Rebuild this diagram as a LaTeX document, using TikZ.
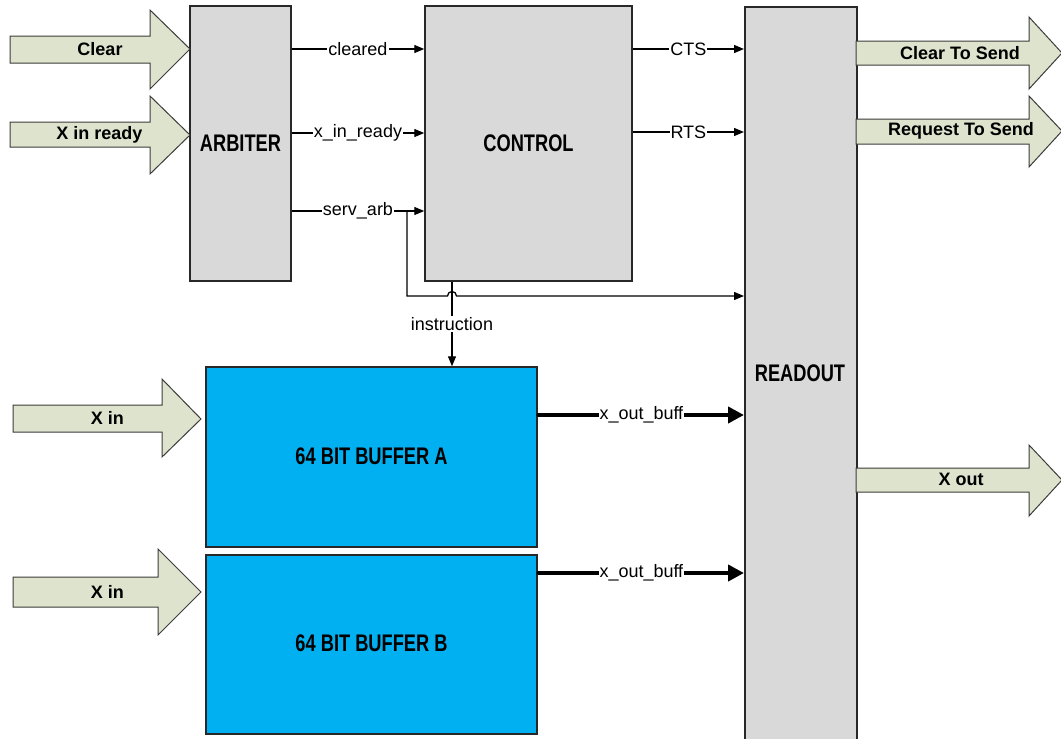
\documentclass[tikz,border=0pt]{standalone}
\usepackage{fontspec}
\setmainfont{Liberation Sans}
\newfontfamily\condfont[FakeStretch=0.76]{Liberation Sans}
\usetikzlibrary{arrows.meta}
\definecolor{boxgray}{RGB}{217,217,217}
\definecolor{bufblue}{RGB}{0,176,240}
\definecolor{arrfill}{RGB}{221,227,205}
\definecolor{edgedark}{RGB}{40,40,40}
\definecolor{arredge}{RGB}{60,60,60}
\tikzset{
  gbox/.style={draw=edgedark, line width=1.5pt, fill=boxgray, inner sep=0pt},
  bbox/.style={draw=edgedark, line width=1.5pt, fill=bufblue, inner sep=0pt},
  ttl/.style={font=\condfont\bfseries\fontsize{24}{26}\selectfont, inner sep=0pt},
  blk/.style={draw=arredge, line width=1pt, fill=arrfill, line join=miter},
  blklbl/.style={font=\bfseries\fontsize{18}{20}\selectfont, inner sep=0pt},
  lbl/.style={font=\fontsize{18}{20}\selectfont, fill=white, inner sep=1pt},
  sig/.style={draw=black, line width=1.3pt, -{Triangle[length=10pt,width=8pt]}},
  wire/.style={draw=black, line width=1.3pt},
  bus/.style={draw=black, line width=4.5pt, line cap=round, -{Triangle[length=16pt,width=16pt]}}
}
\begin{document}
\begin{tikzpicture}[x=1pt,y=-1pt]
\useasboundingbox (0,0) rectangle (1061,739);
\clip (0,0) rectangle (1061,739);
\fill[white] (0,0) rectangle (1061,739);

% blocks
\node[gbox, minimum width=101, minimum height=275] (arb) at (240.5,143.5) {};
\node[ttl] (arbt) at (240.5,143) {ARBITER};
\node[gbox, minimum width=207, minimum height=275] (ctrl) at (528.5,143.5) {};
\node[ttl] (ctrlt) at (528.5,143) {CONTROL};
\node[gbox, minimum width=112, minimum height=744, anchor=north west] (ro) at (744,6) {};
\node[ttl] (rot) at (800,373) {READOUT};
\node[bbox, minimum width=331, minimum height=180] (bufA) at (371.5,457) {};
\node[ttl] (bufAt) at (371.5,456) {64 BIT BUFFER A};
\node[bbox, minimum width=331, minimum height=179] (bufB) at (371.5,644.5) {};
\node[ttl] (bufBt) at (371.5,643) {64 BIT BUFFER B};

% block arrows (inputs)
\draw[blk] (10,36) -- (150,36) -- (150,10) -- (190,49) -- (150,89) -- (150,63) -- (10,63) -- cycle;
\node[blklbl] (inclear) at (100,49) {Clear};
\draw[blk] (10,122) -- (150,122) -- (150,96) -- (190,135) -- (150,174) -- (150,147) -- (10,147) -- cycle;
\node[blklbl] (inxr) at (99.5,135) {X in ready};
\draw[blk] (13,405) -- (162,405) -- (162,379) -- (201,419) -- (162,457) -- (162,432) -- (13,432) -- cycle;
\node[blklbl] (inxa) at (107.5,418) {X in};
\draw[blk] (13,577) -- (158,577) -- (158,549) -- (201,592) -- (158,635) -- (158,607) -- (13,607) -- cycle;
\node[blklbl] (inxb) at (107.5,592) {X in};

% block arrows (outputs)
\draw[blk] (856,41) -- (1029,41) -- (1029,17) -- (1062,53) -- (1029,89) -- (1029,65) -- (856,65) -- cycle;
\node[blklbl] (outcts) at (960,53) {Clear To Send};
\draw[blk] (856,119) -- (1029,119) -- (1029,96) -- (1062,131) -- (1029,167) -- (1029,144) -- (856,144) -- cycle;
\node[blklbl] (outrts) at (961,131) {Request To Send};
\draw[blk] (856,468) -- (1029,468) -- (1029,445) -- (1062,480) -- (1029,516) -- (1029,492) -- (856,492) -- cycle;
\node[blklbl] (outx) at (961,479) {X out};

% level coordinates
\coordinate (ycl) at (0,49);
\coordinate (yxr) at (0,133);
\coordinate (ysa) at (0,211);
\coordinate (ycts) at (0,49);
\coordinate (yrts) at (0,132);
\coordinate (yhop) at (0,296);
\coordinate (ya) at (0,415);
\coordinate (yb) at (0,573);
\coordinate (xbr) at (407,0);
\coordinate (xin) at (452,0);

% signals
\draw[sig] (arb.east |- ycl) -- node[lbl] (lcl) {cleared} (ctrl.west |- ycl);
\draw[sig] (arb.east |- yxr) -- node[lbl] (lxr) {x\_in\_ready} (ctrl.west |- yxr);
\draw[sig] (arb.east |- ysa) -- node[lbl] (lsa) {serv\_arb} (ctrl.west |- ysa);
\draw[sig] (ctrl.east |- ycts) -- node[lbl] (lcts) {CTS} (ro.west |- ycts);
\draw[sig] (ctrl.east |- yrts) -- node[lbl] (lrts) {RTS} (ro.west |- yrts);

% serv_arb branch to readout with hop over instruction line
\coordinate (brtop) at (xbr |- ysa);
\coordinate (brbot) at (xbr |- yhop);
\coordinate (hopL) at ([xshift=-4.5pt]xin |- yhop);
\draw[sig] (brtop) -- (brbot) -- (hopL) arc[start angle=180, end angle=0, radius=4.5pt] -- (ro.west |- yhop);

% instruction
\draw[sig] (ctrl.south -| xin) -- node[lbl] (lins) {instruction} (bufA.north -| xin);

% buses
\draw[bus] ([xshift=1pt]bufA.east |- ya) -- node[lbl, inner sep=0.5pt] (lba) {x\_out\_buff} (ro.west |- ya);
\draw[bus] ([xshift=1pt]bufB.east |- yb) -- node[lbl, inner sep=0.5pt] (lbb) {x\_out\_buff} (ro.west |- yb);
\end{tikzpicture}
\end{document}
